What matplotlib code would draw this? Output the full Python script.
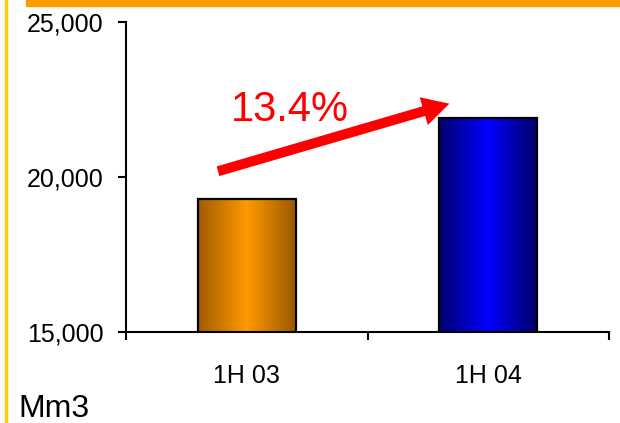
import matplotlib
matplotlib.use('Agg')
import matplotlib.pyplot as plt
import numpy as np
from matplotlib.colors import LinearSegmentedColormap
from matplotlib.patches import Rectangle

plt.rcParams['font.family'] = ['Liberation Sans', 'DejaVu Sans']

# volumes per half year, Mm3
periods = ['1H 03', '1H 04']
volumes = [19300, 21890]
growth_label = '13.4%'
yticks = [15000, 20000, 25000]

fig = plt.figure(figsize=(6.2, 4.23), dpi=100)
ax = fig.add_axes([0.2032, 0.2151, 0.7791, 0.7329])

x = np.arange(len(periods))
bars = ax.bar(x, volumes, width=0.405, color='none', edgecolor='black',
              linewidth=1.6, zorder=3)

# shaded fill: dark edges, bright middle
shades = [('#a05c00', '#ff9900', '#9a5800'), ('#00006e', '#0000ff', '#000066')]
ramp = np.linspace(0, 1, 256).reshape(1, -1)
for b, cols in zip(bars, shades):
    cmap = LinearSegmentedColormap.from_list('shade', cols)
    x0, y0 = b.get_x(), b.get_y()
    ax.imshow(ramp, cmap=cmap, aspect='auto', zorder=2,
              extent=[x0, x0 + b.get_width(), y0, y0 + b.get_height()])

ax.set_xlim(-0.5, 1.5)
ax.set_ylim(15000, 25000)

ax.set_yticks(yticks)
ax.set_yticklabels([f'{v:,}' for v in yticks])
ax.set_xticks([-0.5, 0.5, 1.5])
ax.set_xticklabels([])
ax.set_xticks(x, minor=True)
ax.set_xticklabels(periods, minor=True)
ax.tick_params(axis='x', which='major', direction='out', length=6, width=1.5)
ax.tick_params(axis='x', which='minor', length=0, pad=23, labelsize=18)
ax.tick_params(axis='y', direction='out', length=6, width=1.5, pad=10,
               labelsize=18)

for s in ['top', 'right']:
    ax.spines[s].set_visible(False)
for s in ['left', 'bottom']:
    ax.spines[s].set_linewidth(1.5)
ax.spines['bottom'].set_zorder(4)

# growth arrow between the two periods
ax.annotate('', xy=(0.85, 22390), xytext=(-0.13, 20160),
            arrowprops=dict(arrowstyle='simple,head_length=1.2,head_width=1.3,tail_width=0.45',
                            color='red', lw=0, mutation_scale=16),
            zorder=5)
ax.text(0.178, 21800, growth_label, color='red', fontsize=30,
        ha='center', va='baseline')

fig.text(0.029, 6 / 423, 'Mm3', fontsize=23, ha='left', va='baseline')

# frame decorations
fig.patches.append(Rectangle((26 / 620, 1 - 6 / 423), 1, 6 / 423,
                             transform=fig.transFigure, color='#ff9900',
                             zorder=0))
fig.patches.append(Rectangle((5 / 620, 0), 2 / 620, 1,
                             transform=fig.transFigure, color='#ffcc00',
                             zorder=0))

fig.savefig('out.png', dpi=100)
